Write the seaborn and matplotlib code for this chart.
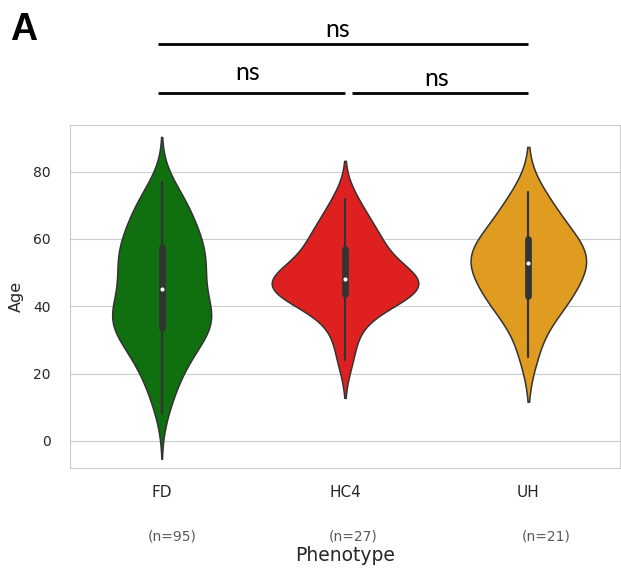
import pandas as pd
import matplotlib
matplotlib.use("Agg")
import matplotlib.pyplot as plt
import seaborn as sns

# Age values per phenotype (quartiles, whiskers, shape)
phenotypes = ["FD", "HC4", "UH"]
colors = ["green", "red", "orange"]
n_labels = ["(n=95)", "(n=27)", "(n=21)"]

age_fd = [8, 11, 13, 15, 17, 19, 20, 21, 22, 23, 24, 25, 26, 27, 27, 28, 29,
          30, 30, 31, 31, 32, 33, 33, 34, 34, 34,
          35, 35, 35, 36, 36, 36, 37, 37, 37, 38, 38, 39, 39,
          40, 40, 41, 41, 42, 43, 44, 45,
          45, 45, 46, 47, 47, 48, 49, 49,
          50, 51, 51, 52, 52, 53, 53, 54, 54,
          55, 55, 56, 56, 57, 57, 58, 58, 59,
          60, 60, 61, 62, 62, 63, 64, 64,
          65, 66, 67, 68, 69, 69,
          70, 71, 72, 73, 74, 75, 77]
age_hc4 = [24, 31, 36, 40, 42, 43, 43, 44, 45, 46, 46, 47, 47, 48, 48, 49, 50, 51, 53, 56,
           58, 59, 60, 62, 65, 68, 72]
age_uh = [25, 33, 38, 41, 42, 43, 46, 48, 50, 52, 53, 54, 55, 56, 58, 60, 61, 64, 67, 70, 74]
ages = [age_fd, age_hc4, age_uh]

# pairwise comparisons (group a, group b, result)
comparisons = [("FD", "UH", "ns"), ("FD", "HC4", "ns"), ("HC4", "UH", "ns")]

df = pd.DataFrame({
    "Phenotype": [p for p, a in zip(phenotypes, ages) for _ in a],
    "Age": [v for a in ages for v in a],
})

sns.set_style("whitegrid")

fig = plt.figure(figsize=(6.21, 5.74), dpi=100)
ax = fig.add_axes([70 / 621, 1 - 468 / 574, 550 / 621, 343 / 574])

# one violin per group so each keeps the width it has in the figure
violin_widths = [0.54, 0.80, 0.63]
for i, ph in enumerate(phenotypes):
    sns.violinplot(data=df[df["Phenotype"] == ph], x="Phenotype", y="Age", order=phenotypes,
                   color=colors[i], width=violin_widths[i], density_norm="width",
                   linewidth=1.1, linecolor=".2",
                   inner_kws=dict(box_width=4.8, whis_width=1.6, marker="."), ax=ax)

ax.set_xlim(-0.5, 2.5)
ax.set_ylim(-8.1, 93.9)
ax.set_yticks([0, 20, 40, 60, 80])
ax.tick_params(axis="x", labelsize=11, pad=9)
ax.tick_params(axis="y", labelsize=10, pad=10.5)

ax.set_ylabel("Age", fontsize=11.5)
ax.yaxis.set_label_coords(-0.084, 0.5)
ax.set_xlabel("Phenotype", fontsize=13.5)
ax.xaxis.label.set_va("baseline")
ax.xaxis.set_label_coords(0.5, -0.271)

# sample sizes under the tick labels
n_offsets = [0.056, 0.044, 0.096]
for i, lab in enumerate(n_labels):
    ax.text(i + n_offsets[i], -0.21, lab, transform=ax.get_xaxis_transform(),
            ha="center", va="baseline", fontsize=10, color="0.35")

# significance bars above the plot
trans = ax.get_xaxis_transform()
bar_y = [1.236, 1.093, 1.093]
text_y = [1.2566, 1.131, 1.114]
text_dx = [-0.04, -0.03, 0.0]
ns_font = ["Liberation Sans Narrow", "Lato"]
for k, (a, b, res) in enumerate(comparisons):
    x0 = phenotypes.index(a)
    x1 = phenotypes.index(b)
    start = x0 - 0.02 if x0 == 0 else x0 + 0.04
    ax.plot([start, x1], [bar_y[k], bar_y[k]], color="black", lw=2,
            transform=trans, clip_on=False, solid_capstyle="butt")
    ax.text((x0 + x1) / 2 + text_dx[k], text_y[k], res, transform=trans,
            ha="center", va="baseline", fontsize=18, family=ns_font, color="black")

fig.text(10 / 621, 1 - 40 / 574, "A", fontsize=27, fontweight="bold", color="black",
         family="Liberation Sans", va="baseline", ha="left")

fig.savefig("out.png", dpi=100)
